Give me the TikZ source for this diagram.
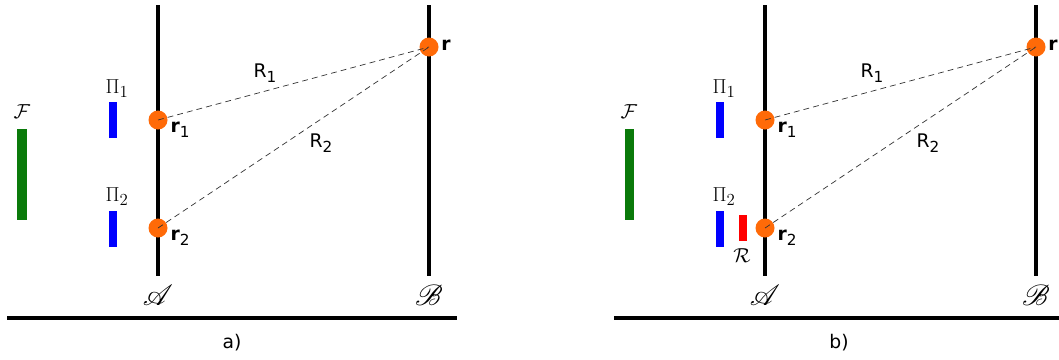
\documentclass[tikz,border=0pt]{standalone}
\usepackage{amsmath,amssymb,mathrsfs}
\usepackage{fontspec}
\setsansfont{DejaVu Sans}
\usepackage{tikz}
\usetikzlibrary{positioning,calc}
\definecolor{dotorange}{HTML}{FF6A08}
\definecolor{barblue}{HTML}{0000FF}
\definecolor{bargreen}{HTML}{0A7A0A}
\definecolor{barred}{HTML}{FF0000}
\newcommand{\vlab}[2]{\textbf{#1}\raisebox{-0.45ex}{\fontsize{13}{15}\selectfont #2}}

\begin{document}
\begin{tikzpicture}[
  x=0.03cm,y=-0.03cm,
  axis/.style={line width=4.2pt},
  dot/.style={circle,fill=dotorange,inner sep=0pt,minimum size=0.57cm},
  ray/.style={dashed,line width=0.6pt,dash pattern=on 5pt off 3.5pt,black!80},
  bar/.style={draw=none,inner sep=0pt,minimum width=0.24cm},
  lab/.style={font=\fontsize{16}{19}\selectfont\sffamily,inner sep=0pt},
  mlab/.style={font=\fontsize{19}{22}\selectfont,inner sep=0pt},
  scrlab/.style={font=\fontsize{25}{28}\selectfont,inner sep=0pt}
]
\useasboundingbox (0,0) rectangle (1059,359);
\fill[white] (0,0) rectangle (1059,359);
\foreach \p/\dx in {a/0,b/607} {
  \begin{scope}[xshift=\dx*0.03cm]
  % screens and base
  \coordinate (\p-Atop) at (158,5);  \coordinate (\p-Abot) at (158,276);
  \coordinate (\p-Btop) at (429,5);  \coordinate (\p-Bbot) at (429,276);
  \coordinate (\p-base0) at (7,318); \coordinate (\p-base1) at (457,318);
  \draw[axis] (\p-Atop) -- (\p-Abot);
  \draw[axis] (\p-Btop) -- (\p-Bbot);
  \draw[axis] (\p-base0) -- (\p-base1);
  \node[scrlab] (\p-Alab) at (158,295) {$\mathscr{A}$};
  \node[scrlab] (\p-Blab) at (429,295) {$\mathscr{B}$};
  \node[lab] (\p-cap) at (232,343) {\p)};
  % sources and filters
  \node[bar,fill=bargreen,minimum width=0.27cm,minimum height=2.73cm] (\p-F) at (22,174.5) {};
  \node[mlab] (\p-Flab) at (22,112) {$\mathcal{F}$};
  \node[bar,fill=barblue,minimum height=1.08cm] (\p-P1) at (113,120) {};
  \node[bar,fill=barblue,minimum height=1.08cm] (\p-P2) at (113,228.5) {};
  \node[mlab] (\p-P1lab) at (117,89) {$\Pi_1$};
  \node[mlab] (\p-P2lab) at (117,197) {$\Pi_2$};
  % points
  \node[dot] (\p-r1) at (158,120) {};
  \node[dot] (\p-r2) at (158,228) {};
  \node[dot] (\p-r) at (429,47) {};
  \node[lab] (\p-r1lab) at (180,130) {\vlab{r}{1}};
  \node[lab] (\p-r2lab) at (180,238) {\vlab{r}{2}};
  \node[lab] (\p-rlab) at (446,45) {\textbf{r}};
  \draw[ray] (\p-r1.center) -- (\p-r.center);
  \draw[ray] (\p-r2.center) -- (\p-r.center);
  \node[lab] (\p-R1) at (265,73) {R\raisebox{-0.45ex}{\fontsize{13}{15}\selectfont 1}};
  \node[lab] (\p-R2) at (321,143) {R\raisebox{-0.45ex}{\fontsize{13}{15}\selectfont 2}};
  \end{scope}
}
% reference beam in b)
\node[bar,fill=barred,minimum height=0.78cm] (b-R) at (743,228) {};
\node[mlab] (b-Rlab) at (742,256) {$\mathcal{R}$};
\end{tikzpicture}
\end{document}
